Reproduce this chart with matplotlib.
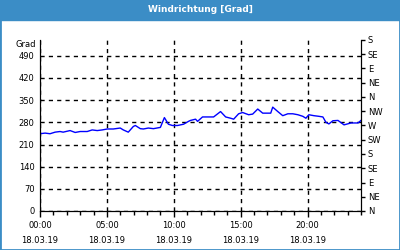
import pandas as pd
import numpy as np
import matplotlib
matplotlib.use("Agg")
import matplotlib.pyplot as plt
import matplotlib.dates as mdates
from matplotlib.patches import Rectangle

plt.rcParams['font.family'] = ['DejaVu Sans']
plt.rcParams['font.size'] = 6

# hours after 18.03.19 00:00 and wind direction in degrees
hours = [0.00, 0.38, 0.75, 1.13, 1.50, 1.73, 2.25, 2.63, 3.00, 3.53, 3.90, 4.28,
         4.65, 5.03, 5.48, 6.00, 6.23, 6.60, 6.98, 7.13, 7.50, 7.73, 8.10, 8.48,
         9.00, 9.30, 9.60, 9.90, 10.28, 10.73, 11.10, 11.25, 11.63, 11.78, 12.15,
         12.53, 12.98, 13.50, 13.88, 14.25, 14.48, 14.85, 15.15, 15.60, 15.90,
         16.28, 16.65, 17.25, 17.40, 17.78, 18.15, 18.53, 18.90, 19.28, 19.65,
         19.88, 20.10, 20.48, 20.85, 21.15, 21.38, 21.60, 21.90, 22.28, 22.73,
         23.25, 23.78, 24.00]
grad = [244, 246, 244, 249, 251, 249, 254, 248, 251, 251, 256, 254,
        256, 259, 259, 262, 256, 249, 267, 270, 260, 259, 262, 260,
        264, 295, 274, 270, 270, 274, 283, 286, 290, 283, 297,
        297, 297, 314, 297, 293, 290, 307, 311, 304, 306,
        322, 309, 309, 328, 314, 301, 307, 307, 304, 299,
        293, 304, 301, 299, 297, 280, 275, 285, 286, 272,
        278, 278, 286]

left_ticks = [0, 70, 140, 210, 280, 350, 420, 490]
right_ticks = [0, 45, 90, 135, 180, 225, 270, 315, 360, 405, 450, 495, 540]
right_labels = ["N", "NE", "E", "SE", "S", "SW", "W", "NW", "N", "NE", "E", "SE", "S"]

start = pd.Timestamp("2019-03-18 00:00")
times = start + pd.to_timedelta(hours, unit="h")

blue_bar = "#3b8dc6"

fig = plt.figure(figsize=(4, 2.5), dpi=100)
fig.patches.append(Rectangle((0, 1 - 20 / 250), 1, 20 / 250, transform=fig.transFigure,
                             color=blue_bar, zorder=0))
fig.patches.append(Rectangle((0, 0), 1, 1, transform=fig.transFigure, fill=False,
                             edgecolor=blue_bar, lw=2, zorder=5))
fig.text(0.5, 1 - 10 / 250, "Windrichtung [Grad]", color="white", weight="bold",
         ha="center", va="center", fontsize=6.5)

ax1 = fig.add_axes([40 / 400, 1 - 211 / 250, 321 / 400, 171 / 250])
ax1.plot(times, grad, color="#0000ff", lw=1)
ax1.set_ylim(0, 540)
ax1.set_xlim(start, start + pd.Timedelta(hours=24))
ax1.set_yticks(left_ticks)
ax1.yaxis.grid(True, color="black", ls=(0, (3, 3)), lw=1)
ax1.xaxis.grid(True, color="black", ls=(0, (3, 3)), lw=1)

major = [start + pd.Timedelta(hours=h) for h in [0, 5, 10, 15, 20]]
ax1.set_xticks(major)
ax1.set_xticklabels([t.strftime("%H:%M") + "\n" + t.strftime("%d.%m.%y") for t in major])
for lbl in ax1.get_xticklabels():
    lbl.set_linespacing(1.9)
ax1.xaxis.set_minor_locator(mdates.HourLocator())
ax1.tick_params(axis="x", which="major", length=4, width=1, pad=3)
ax1.tick_params(axis="x", which="minor", length=3, width=1)
ax1.tick_params(axis="y", length=0, pad=4)
ax1.spines["top"].set_visible(False)
ax1.text(-0.012, 526, "Grad", transform=ax1.get_yaxis_transform(), ha="right", va="center")

ax2 = ax1.twinx()
ax2.set_ylim(0, 540)
ax2.set_yticks(right_ticks)
ax2.set_yticklabels(right_labels)
ax2.tick_params(axis="y", length=3, width=1, pad=2)
ax2.spines["top"].set_visible(False)

fig.savefig("out.png", dpi=100)
